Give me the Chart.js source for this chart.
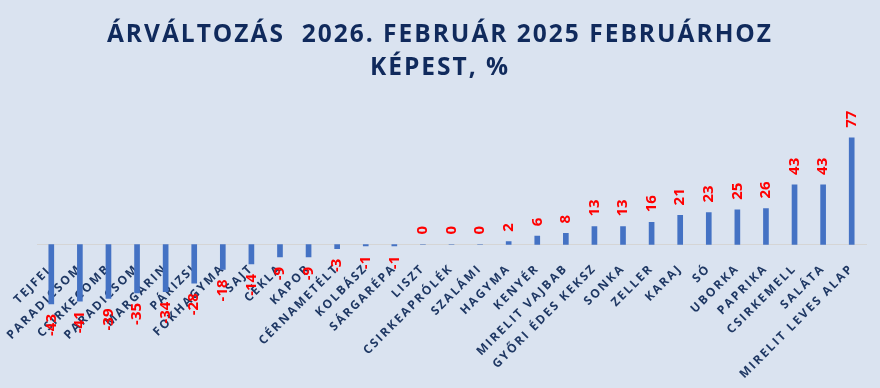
<!DOCTYPE html>
<html>
<head>
<meta charset="utf-8">
<script src="https://cdn.jsdelivr.net/npm/chart.js@4/dist/chart.umd.min.js"></script>
<style>
  html, body { margin: 0; padding: 0; background: #dae3f0; }
  #wrap { width: 880px; height: 388px; position: relative; }
</style>
</head>
<body>
<div id="wrap"><canvas id="priceChart"></canvas></div>
<script>
// Products, sorted from biggest drop to biggest rise
const products = ['TEJFEL', 'PARADICSOM', 'CSIRKECOMB', 'PARADICSOM', 'MARGARIN', 'PÁRIZSI', 'FOKHAGYMA', 'SAJT', 'CÉKLA', 'KAPOR', 'CÉRNAMETÉLT', 'KOLBÁSZ', 'SÁRGARÉPA', 'LISZT', 'CSIRKEAPRÓLÉK', 'SZALÁMI', 'HAGYMA', 'KENYÉR', 'MIRELIT VAJBAB', 'GYŐRI ÉDES KEKSZ', 'SONKA', 'ZELLER', 'KARAJ', 'SÓ', 'UBORKA', 'PAPRIKA', 'CSIRKEMELL', 'SALÁTA', 'MIRELIT LEVES ALAP'];
// Price change in %, Feb 2026 vs Feb 2025
const changes = [-43, -41, -39, -35, -34, -28, -18, -14, -9, -9, -3, -1, -1, 0, 0, 0, 2, 6, 8, 13, 13, 16, 21, 23, 25, 26, 43, 43, 77];
const titleLines = ['ÁRVÁLTOZÁS  2026. FEBRUÁR 2025 FEBRUÁRHOZ', 'KÉPEST, %'];

// wider letter spacing for title and axis text, like the original
const spacing = {
    id: 'spacing',
    beforeDraw(chart) {
        chart.ctx.letterSpacing = '2px';
    }
};

// red rotated value labels next to each bar end
const valueLabels = {
    id: 'valueLabels',
    afterDatasetsDraw(chart) {
        const ctx = chart.ctx;
        const meta = chart.getDatasetMeta(0);
        ctx.save();
        ctx.letterSpacing = '0px';
        ctx.font = 'bold 15px "Open Sans"';
        ctx.fillStyle = '#ff0000';
        ctx.textBaseline = 'middle';
        meta.data.forEach((bar, i) => {
            const v = changes[i];
            ctx.save();
            ctx.translate(bar.x, v < 0 ? bar.y + 10 : bar.y - 10);
            ctx.rotate(-Math.PI / 2);
            ctx.textAlign = v < 0 ? 'right' : 'left';
            ctx.fillText(String(v), 0, 0);
            ctx.restore();
        });
        ctx.restore();
    }
};

const ctx = document.getElementById('priceChart').getContext('2d');
new Chart(ctx, {
    type: 'bar',
    data: {
        labels: products,
        datasets: [{
            data: changes,
            backgroundColor: '#4472c4',
            barThickness: 5
        }]
    },
    options: {
        responsive: true,
        maintainAspectRatio: false,
        animation: false,
        layout: {
            padding: { left: 14, right: 14, top: 0, bottom: 5 }
        },
        plugins: {
            legend: { display: false },
            tooltip: { enabled: false },
            title: {
                display: true,
                text: titleLines,
                color: '#102a5c',
                font: { family: 'Open Sans', size: 24.5, weight: 'bold', lineHeight: 1.33 },
                padding: { top: 19, bottom: 1 }
            }
        },
        scales: {
            x: {
                position: { y: 0 },
                grid: { display: false },
                border: { display: true, color: '#d5d5d5', width: 1 },
                ticks: {
                    autoSkip: false,
                    minRotation: 45,
                    maxRotation: 45,
                    padding: 9,
                    color: '#1f3864',
                    font: { family: 'Open Sans', size: 12, weight: 'bold' }
                }
            },
            y: {
                // invisible value axis, only keeps the left gap of the plot
                min: -100,
                max: 115,
                grid: { display: false },
                border: { display: false },
                ticks: { display: false },
                afterFit(scale) {
                    scale.width = 23;
                }
            }
        }
    },
    plugins: [spacing, valueLabels]
});
</script>
</body>
</html>
